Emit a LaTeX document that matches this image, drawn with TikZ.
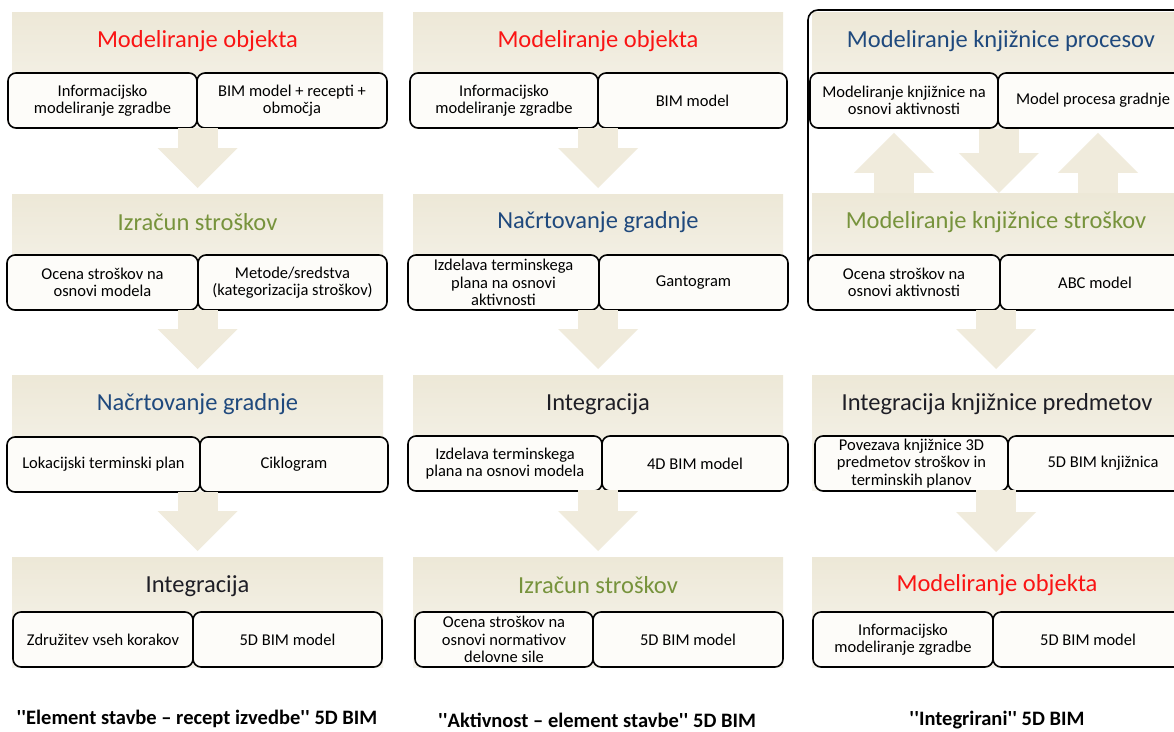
\documentclass[tikz,border=0pt]{standalone}
\usepackage{fontspec}
\setmainfont{Carlito}
\usetikzlibrary{arrows.meta}
\definecolor{beige}{RGB}{237,232,215}
\definecolor{beigelight}{RGB}{247,245,238}
\definecolor{arrowbeige}{RGB}{240,235,220}
\definecolor{titlered}{RGB}{250,20,20}
\definecolor{titlegreen}{RGB}{119,147,60}
\definecolor{titleblue}{RGB}{31,73,125}
\definecolor{titledark}{RGB}{30,30,38}
\definecolor{boxfill}{RGB}{253,252,249}

\begin{document}
\begin{tikzpicture}[x=1pt,y=-1pt,
  panel/.style={inner sep=0pt, draw=none, top color=beige, bottom color=beigelight, anchor=north west},
  title/.style={font=\fontsize{24.5}{28}\selectfont},
  item/.style={draw=black, line width=1.6pt, rounded corners=8pt, fill=boxfill, align=center,
    font=\fontsize{16.5}{17.5}\selectfont, inner sep=0pt, minimum height=55pt},
  caption/.style={font=\fontsize{20.5}{24}\selectfont\bfseries},
  flow/.style={draw=arrowbeige, line width=40pt, -{Triangle[length=40pt,width=80pt,line width=0pt]}}
]

\path[use as bounding box, fill=white] (0,0) rectangle (1174,731);
\clip (0,0) rectangle (1174,731);

% panels
\node (lp1) at (12,12) [panel, minimum width=371pt, minimum height=116pt]{};
\node (lp2) at (12,194) [panel, minimum width=371pt, minimum height=116pt]{};
\node (lp3) at (12,375) [panel, minimum width=371pt, minimum height=117pt]{};
\node (lp4) at (12,557) [panel, minimum width=371pt, minimum height=110pt]{};

\node (mp1) at (413,12) [panel, minimum width=370pt, minimum height=116pt]{};
\node (mp2) at (413,194) [panel, minimum width=370pt, minimum height=116pt]{};
\node (mp3) at (413,375) [panel, minimum width=370pt, minimum height=115pt]{};
\node (mp4) at (413,557) [panel, minimum width=370pt, minimum height=110pt]{};

\node (rp1) at (812,12) [panel, minimum width=368pt, minimum height=116pt]{};
\node (rp2) at (812,193) [panel, minimum width=368pt, minimum height=117pt]{};
\node (rp3) at (812,375) [panel, minimum width=368pt, minimum height=115pt]{};
\node (rp4) at (812,557) [panel, minimum width=368pt, minimum height=110pt]{};

% titles
\node (lt1) at (197.5,41) [title, titlered]{Modeliranje objekta};
\node (lt2) at (197.5,222) [title, titlegreen]{Izračun stroškov};
\node (lt3) at (197.5,404) [title, titleblue]{Načrtovanje gradnje};
\node (lt4) at (197.5,586) [title, titledark]{Integracija};

\node (mt1) at (598,41) [title, titlered]{Modeliranje objekta};
\node (mt2) at (598,222) [title, titleblue]{Načrtovanje gradnje};
\node (mt3) at (598,404) [title, titledark]{Integracija};
\node (mt4) at (598,585) [title, titlegreen]{Izračun stroškov};

\node (rt1) at (1001,41) [title, titleblue]{Modeliranje knjižnice procesov};
\node (rt2) at (996,222) [title, titlegreen]{Modeliranje knjižnice stroškov};
\node (rt3) at (997,404) [title, titledark]{Integracija knjižnice predmetov};
\node (rt4) at (997,585) [title, titlered]{Modeliranje objekta};

% boxes
\node (l1a) at (102.5,100.5) [item, minimum width=189pt]{Informacijsko\\modeliranje zgradbe};
\node (l1b) at (292,100.5) [item, minimum width=190pt]{BIM model + recepti +\\območja};
\node (l2a) at (102.5,282.5) [item, minimum width=191pt]{Ocena stroškov na\\osnovi modela};
\node (l2b) at (292.5,282.5) [item, minimum width=189pt]{Metode/sredstva\\(kategorizacija stroškov)};
\node (l3a) at (103.5,464.5) [item, minimum width=193pt]{Lokacijski terminski plan};
\node (l3b) at (294,464.5) [item, minimum width=188pt]{Ciklogram};
\node (l4a) at (103,639.5) [item, minimum width=180pt]{Združitev vseh korakov};
\node (l4b) at (287.5,639.5) [item, minimum width=189pt]{5D BIM model};

\node (m1a) at (504,100.5) [item, minimum width=188pt]{Informacijsko\\modeliranje zgradbe};
\node (m1b) at (692.5,100.5) [item, minimum width=189pt]{BIM model};
\node (m2a) at (503.5,282.5) [item, minimum width=191pt]{Izdelava terminskega\\plana na osnovi\\aktivnosti};
\node (m2b) at (693.5,282.5) [item, minimum width=189pt]{Gantogram};
\node (m3a) at (505,463.5) [item, minimum width=194pt]{Izdelava terminskega\\plana na osnovi modela};
\node (m3b) at (695,463.5) [item, minimum width=186pt]{4D BIM model};
\node (m4a) at (504,639.5) [item, minimum width=178pt]{Ocena stroškov na\\osnovi normativov\\delovne sile};
\node (m4b) at (688,639.5) [item, minimum width=190pt]{5D BIM model};

\draw[line width=1.6pt, rounded corners=10pt] (808,282) -- (808,10) -- (1190,10);

\node (r1a) at (904,100.5) [item, minimum width=188pt]{Modeliranje knjižnice na\\osnovi aktivnosti};
\node (r1b) at (1093,100.5) [item, minimum width=190pt]{Model procesa gradnje};
\node (r2a) at (904,282.5) [item, minimum width=192pt]{Ocena stroškov na\\osnovi aktivnosti};
\node (r2b) at (1095,282.5) [item, minimum width=190pt]{ABC model};
\node (r3a) at (911.5,463.5) [item, minimum width=193pt]{Povezava knjižnice 3D\\predmetov stroškov in\\terminskih planov};
\node (r3b) at (1103,463.5) [item, minimum width=190pt]{5D BIM knjižnica};
\node (r4a) at (903,639.5) [item, minimum width=180pt]{Informacijsko\\modeliranje zgradbe};
\node (r4b) at (1088,639.5) [item, minimum width=190pt]{5D BIM model};

% arrows
\draw[flow] (lp1.south) -- ([yshift=6pt]lp2.north);
\draw[flow] (lp2.south) -- ([yshift=6pt]lp3.north);
\draw[flow] (lp3.south) -- ([yshift=6pt]lp4.north);

\draw[flow] (mp1.south) -- ([yshift=6pt]mp2.north);
\draw[flow] (mp2.south) -- ([yshift=6pt]mp3.north);
\draw[flow] (mp3.south) -- ([yshift=6pt]mp4.north);

\draw[flow] ([xshift=-10pt]r1a.south |- rp2.north) -- ([xshift=-10pt,yshift=-4pt]r1a.south);
\draw[flow] (r1a.south east) -- (r1a.south east |- rp2.north);
\draw[flow] ([xshift=5pt]r1b.south |- rp2.north) -- ([xshift=5pt,yshift=-4pt]r1b.south);
\draw[flow] (rp2.south) -- ([yshift=6pt]rp3.north);
\draw[flow] (rp3.south) -- ([yshift=5pt]rp4.north);

% captions
\node (lcap) at (197,719) [caption]{\textquotesingle\textquotesingle Element stavbe -- recept izvedbe\textquotesingle\textquotesingle\ 5D BIM};
\node (mcap) at (597,720) [caption]{\textquotesingle\textquotesingle Aktivnost -- element stavbe\textquotesingle\textquotesingle\ 5D BIM};
\node (rcap) at (997,720) [caption]{\textquotesingle\textquotesingle Integrirani\textquotesingle\textquotesingle\ 5D BIM};

\end{tikzpicture}
\end{document}
